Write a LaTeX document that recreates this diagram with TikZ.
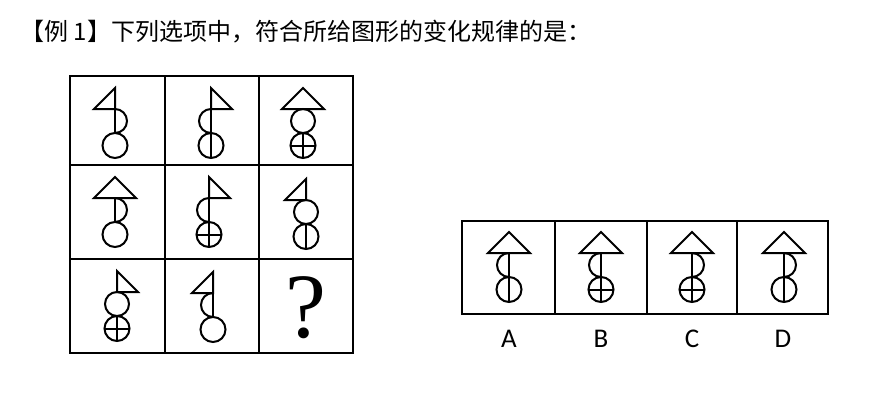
\documentclass[tikz,border=0pt]{standalone}
\usepackage{fontspec}
\newfontfamily\cjk{Noto Sans CJK SC}
\newfontfamily\optfont{Carlito}
\newfontfamily\qfont{Liberation Serif}

% parts of one sign, apex at (0,0), y grows downwards
\newcommand*{\TopIso}{\draw (0,0) -- (21,21) -- (-21,21) -- cycle;}
\newcommand*{\TopLeft}{\draw (0,0) -- (0,21) -- (-21,21) -- cycle;}
\newcommand*{\TopRight}{\draw (0,0) -- (0,21) -- (21,21) -- cycle;}
\newcommand*{\MidSemL}{\draw (0,21) -- (0,45); \draw (0,21) arc[start angle=-90,end angle=-270,radius=12];}
\newcommand*{\MidSemR}{\draw (0,21) -- (0,45); \draw (0,21) arc[start angle=-90,end angle=90,radius=12];}
\newcommand*{\MidRing}{\draw (0,33) circle[radius=12];}
\newcommand*{\BotPlain}{\draw (0,57.5) circle[radius=12.5];}
\newcommand*{\BotBar}{\BotPlain \draw (0,45) -- (0,70);}
\newcommand*{\BotCross}{\BotBar \draw (-12.5,57.5) -- (12.5,57.5);}
\newcommand*{\DrawSigns}[1]{% #1 = list of x/y/top/middle/bottom
  \foreach \x/\y/\tri/\mdl/\btm in {#1} {
    \begin{scope}[shift={(\x,\y)}]
      \csname Top\tri\endcsname
      \csname Mid\mdl\endcsname
      \csname Bot\btm\endcsname
    \end{scope}
  }%
}

\begin{document}
\begin{tikzpicture}[x=1pt,y=-1pt,line width=2pt]
    \useasboundingbox (0,0) rectangle (893,404);
    \fill[white] (0,0) rectangle (893,404);

    \node [anchor=west] (title) at (16,32)
      {\cjk\fontsize{24}{24}\selectfont 【例 1】下列选项中，符合所给图形的变化规律的是：};

    % the 3x3 grid
    \begin{scope}[line width=2pt]
        \draw (70,76) rectangle (353,353);
        \foreach \gx in {165,259} \draw (\gx,76) -- (\gx,353);
        \foreach \gy in {165,259} \draw (70,\gy) -- (353,\gy);
    \end{scope}

    \DrawSigns{
        115/88/Left/SemR/Plain,
        211/88/Right/SemL/Bar,
        303/88/Iso/Ring/Cross,
        115/177/Iso/SemR/Plain,
        209/177/Right/SemL/Cross,
        306/179/Left/Ring/Bar,
        117/271/Right/Ring/Cross,
        213/272/Left/SemL/Plain%
    }
    \node (qmark) at (306,308) {\qfont\fontsize{92}{92}\selectfont ?};

    % the four options
    \begin{scope}[line width=2pt]
        \draw (462,221) rectangle (828,314);
        \foreach \gx in {555,646.5,737} \draw (\gx,221) -- (\gx,314);
    \end{scope}

    \DrawSigns{
        509/232/Iso/SemL/Bar,
        601/232/Iso/SemL/Cross,
        692/232/Iso/SemR/Cross,
        784/232/Iso/SemR/Bar%
    }
    \foreach \x/\lab in {509/A,601/B,692/C,783/D}
        \node (opt\lab) at (\x,339) {\optfont\fontsize{27}{27}\selectfont \lab};
\end{tikzpicture}
\end{document}
